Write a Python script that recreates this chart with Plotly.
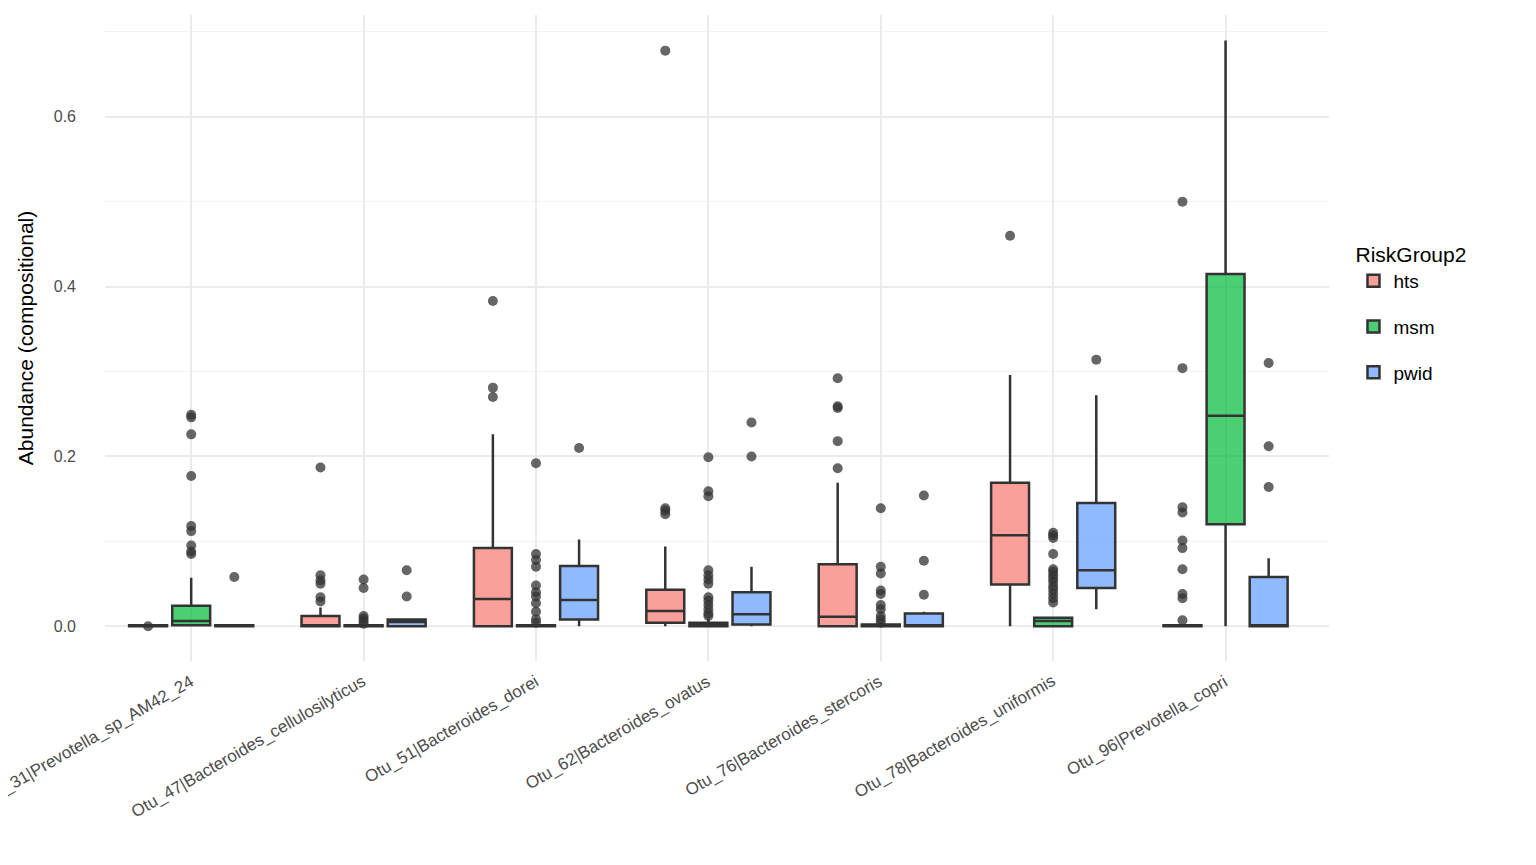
import plotly.graph_objects as go

categories = ["Otu_31|Prevotella_sp_AM42_24", "Otu_47|Bacteroides_cellulosilyticus",
              "Otu_51|Bacteroides_dorei", "Otu_62|Bacteroides_ovatus",
              "Otu_76|Bacteroides_stercoris", "Otu_78|Bacteroides_uniformis",
              "Otu_96|Prevotella_copri"]
groups = ["hts", "msm", "pwid"]
colors = {"hts": "rgba(248,118,109,0.7)", "msm": "rgba(0,186,56,0.7)", "pwid": "rgba(97,156,255,0.7)"}

# per group: lowerfence, q1, median, q3, upperfence for each category
stats = {
    "hts": {
        "lo": [0, 0, 0, 0, 0, 0, 0],
        "q1": [0, 0, 0, 0.004, 0, 0.049, 0],
        "med": [0, 0.001, 0.032, 0.018, 0.011, 0.107, 0],
        "q3": [0.001, 0.012, 0.092, 0.043, 0.073, 0.169, 0.001],
        "hi": [0.002, 0.022, 0.226, 0.094, 0.169, 0.296, 0.002],
    },
    "msm": {
        "lo": [0, 0, 0, 0, 0, 0, 0],
        "q1": [0.001, 0, 0, 0, 0, 0, 0.12],
        "med": [0.006, 0, 0, 0.002, 0.001, 0.006, 0.248],
        "q3": [0.024, 0.001, 0.001, 0.004, 0.002, 0.01, 0.415],
        "hi": [0.057, 0.002, 0.002, 0.009, 0.004, 0.01, 0.69],
    },
    "pwid": {
        "lo": [0, 0, 0, 0, 0, 0.02, 0],
        "q1": [0, 0, 0.008, 0.002, 0, 0.045, 0],
        "med": [0, 0.005, 0.031, 0.014, 0.001, 0.066, 0.001],
        "q3": [0.001, 0.008, 0.071, 0.04, 0.015, 0.145, 0.058],
        "hi": [0.001, 0.009, 0.102, 0.07, 0.017, 0.272, 0.08],
    },
}

outliers = {
    "hts": [[0.0], [0.187, 0.06, 0.054, 0.05, 0.034, 0.029], [0.383, 0.281, 0.27],
            [0.678, 0.139, 0.136, 0.132], [0.292, 0.259, 0.257, 0.218, 0.186], [0.46],
            [0.5, 0.304, 0.14, 0.134, 0.101, 0.092, 0.067, 0.038, 0.033, 0.007]],
    "msm": [[0.249, 0.246, 0.226, 0.177, 0.118, 0.112, 0.095, 0.088, 0.085],
            [0.055, 0.045, 0.012, 0.009, 0.006, 0.003],
            [0.192, 0.085, 0.078, 0.07, 0.048, 0.04, 0.035, 0.027, 0.017, 0.008, 0.004],
            [0.199, 0.159, 0.153, 0.066, 0.06, 0.055, 0.05, 0.034, 0.03, 0.025, 0.02, 0.015, 0.012],
            [0.139, 0.07, 0.062, 0.042, 0.038, 0.025, 0.02, 0.012, 0.008, 0.004],
            [0.11, 0.107, 0.104, 0.085, 0.067, 0.064, 0.06, 0.056, 0.052, 0.047, 0.043, 0.038, 0.033, 0.028],
            []],
    "pwid": [[0.058], [0.066, 0.035], [0.21], [0.24, 0.2], [0.154, 0.077, 0.037], [0.314],
             [0.31, 0.212, 0.164]],
}

offsets = {"hts": -0.25, "msm": 0.0, "pwid": 0.25}

fig = go.Figure()
for g in groups:
    xs = [i + offsets[g] for i in range(len(categories))]
    s = stats[g]
    fig.add_trace(go.Box(
        x=xs, q1=s["q1"], median=s["med"], q3=s["q3"],
        lowerfence=s["lo"], upperfence=s["hi"], name=g, legendgroup=g,
        fillcolor=colors[g], line=dict(color="#333333", width=2.5),
        width=0.22, boxpoints=False, whiskerwidth=0, hoverinfo="skip"))
for g in groups:
    ox, oy = [], []
    for i, vals in enumerate(outliers[g]):
        ox += [i + offsets[g]] * len(vals)
        oy += vals
    fig.add_trace(go.Scatter(x=ox, y=oy, mode="markers", showlegend=False,
                             marker=dict(color="rgba(51,51,51,0.75)", size=10)))

for i, c in enumerate(categories):
    fig.add_annotation(x=i, y=0, xref="x", yref="paper", text=c, showarrow=False,
                       textangle=-30, xanchor="right", yanchor="top", yshift=-8, xshift=8,
                       font=dict(size=17, color="#4d4d4d"))

fig.update_layout(
    width=1536, height=865, plot_bgcolor="white", paper_bgcolor="white",
    margin=dict(l=97, r=215, t=7, b=212),
    font=dict(family="Liberation Sans, Arial", color="#4d4d4d", size=15),
    legend=dict(title=dict(text="RiskGroup2", font=dict(size=21, color="black")),
                x=1.02, y=0.66, yanchor="top", font=dict(size=19, color="black"),
                traceorder="grouped", tracegroupgap=18),
    showlegend=True,
)
fig.update_xaxes(range=[-0.5, 6.6], tickmode="array", tickvals=list(range(7)),
                 showticklabels=False, showgrid=True, gridcolor="#ebebeb",
                 gridwidth=2, zeroline=False, ticks="")
fig.update_yaxes(range=[-0.041, 0.72], tickvals=[0, 0.2, 0.4, 0.6],
                 ticktext=["0.0", "0.2", "0.4", "0.6"], showgrid=True, gridcolor="#ebebeb",
                 gridwidth=2, zeroline=False, tickfont=dict(size=16), ticklabelstandoff=28,
                 minor=dict(tickvals=[0.1, 0.3, 0.5, 0.7], showgrid=True, gridcolor="#f3f3f3", gridwidth=1),
                 title=dict(text="Abundance (compositional)", standoff=14,
                            font=dict(size=21, color="black")))
fig.write_html("out.html")
